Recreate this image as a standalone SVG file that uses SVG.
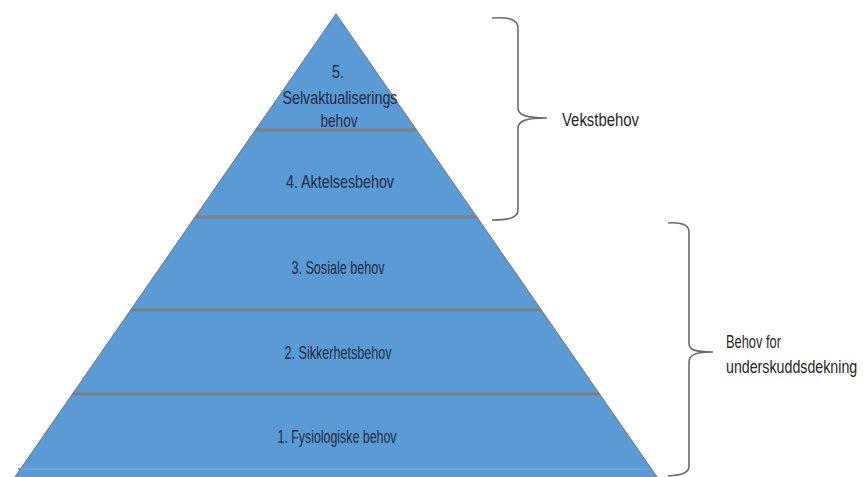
<svg xmlns="http://www.w3.org/2000/svg" width="863" height="477" viewBox="0 0 863 477">
  <style>
    .tier { fill: #5b9bd5; }
    .div { stroke: #7a7f86; stroke-width: 3; fill: none; }
    .edge { stroke: #7a7f86; stroke-width: 1.2; fill: none; }
    .lbl { font-family: "Liberation Sans", Arial, sans-serif; font-size: 18px; fill: #1c2a48; text-anchor: middle; }
    .side { font-family: "Liberation Sans", Arial, sans-serif; font-size: 18px; fill: #262626; }
    .brace { stroke: #6b6b6b; stroke-width: 1.6; fill: none; }
  </style>
  <rect width="863" height="477" fill="#ffffff"/>
  <g id="pyramid">
    <polygon class="tier" points="336,14 657,477 15,477"/>
    <line x1="18" y1="469" x2="652" y2="469" stroke="#69a6dc" stroke-width="2"/>
    <polyline class="edge" points="15,477 336,14 657,477"/>
  </g>
  <g id="connectors">
    <line class="div" x1="255.6" y1="130" x2="416.4" y2="130"/>
    <line class="div" x1="195.3" y1="217" x2="476.7" y2="217"/>
    <line class="div" x1="130.9" y1="310" x2="541.1" y2="310"/>
    <line class="div" x1="72.7" y1="394" x2="599.3" y2="394"/>
  </g>
  <g id="tier5">
    <text class="lbl" x="338" y="78" textLength="12" lengthAdjust="spacingAndGlyphs">5.</text>
    <text class="lbl" x="340" y="104" textLength="115" lengthAdjust="spacingAndGlyphs">Selvaktualiserings</text>
    <text class="lbl" x="339" y="127" textLength="37" lengthAdjust="spacingAndGlyphs">behov</text>
  </g>
  <g id="tier4">
    <text class="lbl" x="340" y="188" textLength="108" lengthAdjust="spacingAndGlyphs">4. Aktelsesbehov</text>
  </g>
  <g id="tier3">
    <text class="lbl" x="338" y="274" textLength="93" lengthAdjust="spacingAndGlyphs">3. Sosiale behov</text>
  </g>
  <g id="tier2">
    <text class="lbl" x="338" y="359" textLength="107" lengthAdjust="spacingAndGlyphs">2. Sikkerhetsbehov</text>
  </g>
  <g id="tier1">
    <text class="lbl" x="337" y="443" textLength="119" lengthAdjust="spacingAndGlyphs">1. Fysiologiske behov</text>
  </g>
  <g id="vekstbehov">
    <path class="brace" d="M492,18 C508,17 518,19 518,28 L518,108 C518,115 526,118 547,118 C526,118 518,121 518,128 L518,210 C518,218 508,220 492,220"/>
    <text class="side" x="562" y="126" textLength="77" lengthAdjust="spacingAndGlyphs">Vekstbehov</text>
  </g>
  <g id="underskudd">
    <path class="brace" d="M668,223 C682,222 689,225 689,232 L689,343 C689,350 695,352 713,352 C695,352 689,355 689,362 L689,466 C689,473 682,475 668,476"/>
    <text class="side" x="726" y="348" textLength="55" lengthAdjust="spacingAndGlyphs">Behov for</text>
    <text class="side" transform="translate(726,373) scale(0.8,1)" x="0" y="0" textLength="164" lengthAdjust="spacingAndGlyphs">underskuddsdekning</text>
  </g>
</svg>
